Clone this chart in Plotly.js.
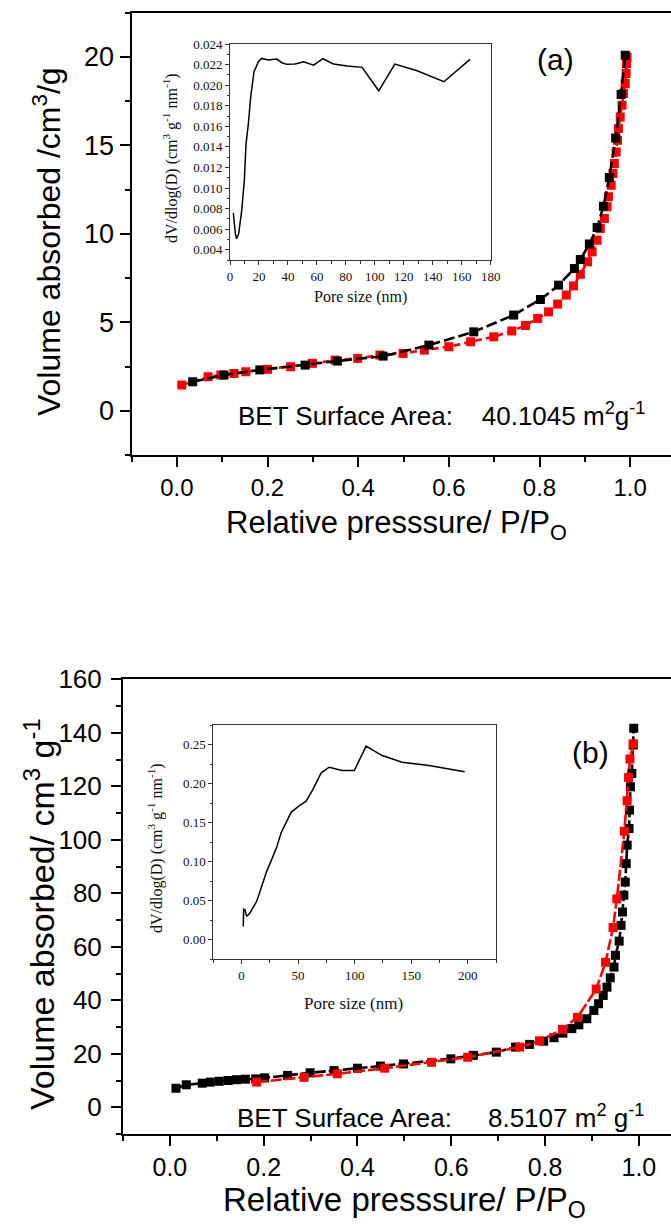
<!DOCTYPE html>
<html>
<head>
<meta charset="utf-8">
<script src="https://cdn.plot.ly/plotly-3.0.1.min.js"></script>
<style>html,body{margin:0;padding:0;background:#fff;}#chart{width:671px;height:1226px;}</style>
</head>
<body>
<div id="chart"></div>
<script>
// ---------- Panel (a) isotherm ----------
const aBlackP = [0.035,0.104,0.183,0.283,0.354,0.455,0.556,0.655,0.743,0.802,0.842,0.877,0.890,0.910,0.927,0.941,0.954,0.968,0.980,0.989];
const aBlackV = [1.64,2.02,2.31,2.58,2.81,3.09,3.71,4.46,5.41,6.29,7.10,8.04,8.55,9.42,10.36,11.56,13.18,15.42,17.88,20.1];
const aRedP = [0.011,0.069,0.097,0.126,0.152,0.200,0.251,0.299,0.349,0.399,0.448,0.499,0.546,0.600,0.648,0.699,0.739,0.769,0.796,0.820,0.840,0.859,0.875,0.890,0.906,0.916,0.927,0.934,0.943,0.949,0.952,0.958,0.962,0.965,0.969,0.972,0.974,0.978,0.982,0.985,0.989,0.991,0.992,0.993];
const aRedV = [1.45,1.92,2.02,2.11,2.20,2.34,2.49,2.68,2.86,2.96,3.15,3.24,3.43,3.62,3.90,4.18,4.51,4.82,5.22,5.59,6.03,6.54,7.06,7.71,8.42,8.98,9.64,10.30,10.87,11.53,12.09,12.75,13.41,13.98,14.63,15.29,15.95,16.61,17.27,17.93,18.50,19.06,19.63,20.0];
// ---------- Panel (a) inset: pore size distribution ----------
const aPoreD = [2.3,3.0,3.7,4.6,6.0,8.1,9.9,11.1,12.7,14.3,16.6,19.6,21.9,26.5,32.3,35.8,39.2,45,50.8,57.7,64.2,71.5,80.8,91.2,102.7,113.8,129.2,147.7,165.7];
const aPoreV = [0.00757,0.00653,0.00556,0.00507,0.00556,0.00783,0.01075,0.01432,0.01627,0.01887,0.0213,0.02228,0.0226,0.02244,0.02254,0.02218,0.02202,0.02205,0.02228,0.02195,0.02257,0.02205,0.02186,0.02173,0.01945,0.02205,0.0214,0.02033,0.02251];
// ---------- Panel (b) isotherm ----------
const bBlackP = [0.013,0.035,0.069,0.086,0.105,0.124,0.142,0.161,0.183,0.202,0.251,0.299,0.350,0.400,0.449,0.498,0.599,0.647,0.696,0.737,0.767,0.797,0.819,0.838,0.857,0.872,0.889,0.904,0.914,0.924,0.932,0.939,0.947,0.950,0.958,0.962,0.965,0.968,0.971,0.973,0.975,0.979,0.980,0.982,0.985,0.988,0.989];
const bBlackV = [7.1,8.4,9.0,9.4,9.7,10.0,10.3,10.5,10.6,11.0,11.9,12.9,13.7,14.6,15.4,16.2,18.1,19.4,20.6,22.5,23.5,24.7,26.0,27.7,29.4,30.8,33.1,36.2,38.7,41.8,44.9,48.4,52.4,56.8,62.1,68.0,73.0,79.3,84.2,91.1,98.0,104.2,111.1,119.8,124.8,135.4,141.7];
const bRedP = [0.185,0.286,0.357,0.458,0.558,0.635,0.746,0.788,0.837,0.869,0.909,0.929,0.945,0.953,0.969,0.975,0.978,0.981,0.988];
const bRedV = [9.4,11.2,12.5,14.6,16.8,18.7,22.5,24.8,29.1,33.6,44.2,54.2,67.2,77.9,103.2,114.6,123.3,130.2,135.9];
// ---------- Panel (b) inset ----------
const bPoreD = [1.5,1.8,3.0,4.4,7.4,13.3,17.8,22.2,26.6,31.1,34.9,39.1,43.8,50.3,57.1,63.0,70.4,77.5,88.8,99.7,110.1,124.3,142.0,165.7,197.3];
const bPoreV = [0.0171,0.0393,0.0385,0.0299,0.0342,0.0491,0.0684,0.0876,0.1026,0.1188,0.1368,0.1496,0.1632,0.1709,0.1774,0.1923,0.2137,0.2209,0.2167,0.2167,0.2479,0.2359,0.2274,0.2231,0.2150];

// ---------- Text ----------
const aYTitle = 'Volume absorbed /cm<sup>3</sup>/g';
const bYTitle = 'Volume absorbed/ cm<sup>3</sup> g<sup>-1</sup>';
const xTitle = 'Relative presssure/ P/P<sub>O</sub>';
const insetYTitle = 'dV/dlog(D) (cm<sup>3</sup> g<sup>-1</sup> nm<sup>-1</sup>)';
const insetXTitle = 'Pore size (nm)';
const aBET = 'BET Surface Area:\u00a0\u00a0\u00a0 40.1045 m<sup>2</sup>g<sup>-1</sup>';
const bBET = 'BET Surface Area:\u00a0\u00a0\u00a0\u00a0 8.5107 m<sup>2</sup> g<sup>-1</sup>';

const W = 671, H = 1226;
const px = v => v / W;
const py = v => 1 - v / H;
const SANS = 'Liberation Sans, Arial, sans-serif';
const SERIF = 'Liberation Serif, Times New Roman, serif';

const iso = (x, y, color, dash, xa, ya) => ({
  x: x, y: y, xaxis: xa, yaxis: ya, type: 'scatter', mode: 'lines+markers',
  line: {color: color, width: 2.6, dash: dash},
  marker: {symbol: 'square', size: 9, color: color},
  showlegend: false, hoverinfo: 'skip'
});

const traces = [
  iso(aRedP, aRedV, '#ff0000', '7px,4px', 'x', 'y'),
  iso(aBlackP, aBlackV, '#000000', '11px,4px', 'x', 'y'),
  {x: aPoreD, y: aPoreV, xaxis: 'x2', yaxis: 'y2', type: 'scatter', mode: 'lines',
   line: {color: '#000', width: 1.5}, showlegend: false, hoverinfo: 'skip'},
  iso(bBlackP, bBlackV, '#000000', '11px,3px', 'x3', 'y3'),
  iso(bRedP, bRedV, '#ff0000', '11px,3px', 'x3', 'y3'),
  {x: bPoreD, y: bPoreV, xaxis: 'x4', yaxis: 'y4', type: 'scatter', mode: 'lines',
   line: {color: '#000', width: 1.5}, showlegend: false, hoverinfo: 'skip'}
];

const mainAx = (o) => Object.assign({
  showline: true, linecolor: '#000', linewidth: 2,
  ticks: 'outside', ticklen: 10, tickwidth: 2, tickcolor: '#000',
  showgrid: false, zeroline: false,
  tickfont: {family: SANS, size: 24, color: '#000'}
}, o);
const insetAx = (o) => Object.assign({
  showline: true, linecolor: '#333', linewidth: 1, mirror: true,
  ticks: 'outside', ticklen: 4, tickwidth: 1, tickcolor: '#333',
  showgrid: false, zeroline: false,
  tickfont: {family: SERIF, size: 13, color: '#111'}
}, o);

const layout = {
  width: W, height: H,
  margin: {l: 0, r: 0, t: 0, b: 0},
  paper_bgcolor: '#fff', plot_bgcolor: 'rgba(0,0,0,0)',
  showlegend: false,
  xaxis: mainAx({domain: [px(131.5), 1], range: [-0.1, 1.09], anchor: 'y', mirror: true,
    tick0: 0, dtick: 0.2, tickformat: '.1f',
    minor: {ticks: 'outside', ticklen: 5, tickwidth: 2, tickcolor: '#000', dtick: 0.1, tick0: 0}}),
  yaxis: mainAx({domain: [py(455), py(12.7)], range: [-2.5, 22.5], anchor: 'x',
    tick0: 0, dtick: 5, tickfont: {family: SANS, size: 27, color: '#000'},
    minor: {ticks: 'outside', ticklen: 5, tickwidth: 2, tickcolor: '#000', dtick: 2.5, tick0: 0}}),
  xaxis2: insetAx({domain: [px(230), px(490.7)], range: [0, 180], anchor: 'y2',
    tick0: 0, dtick: 20, minor: {ticks: 'outside', ticklen: 2.5, tickcolor: '#333', dtick: 10}}),
  yaxis2: insetAx({domain: [py(260), py(44)], range: [0.003, 0.024], anchor: 'x2',
    tick0: 0, dtick: 0.002, tickformat: '.3f',
    minor: {ticks: 'outside', ticklen: 2.5, tickcolor: '#333', dtick: 0.001}}),
  xaxis3: mainAx({domain: [px(123), 1], range: [-0.1, 1.0685], anchor: 'y3', mirror: true,
    tick0: 0, dtick: 0.2, tickformat: '.1f', tickfont: {family: SANS, size: 25, color: '#000'},
    minor: {ticks: 'outside', ticklen: 5, tickwidth: 2, tickcolor: '#000', dtick: 0.1, tick0: 0}}),
  yaxis3: mainAx({domain: [py(1134), py(679.3)], range: [-10, 160], anchor: 'x3',
    tick0: 0, dtick: 20, tickfont: {family: SANS, size: 26, color: '#000'}, ticklabelstandoff: 4,
    minor: {ticks: 'outside', ticklen: 5, tickwidth: 2, tickcolor: '#000', dtick: 10, tick0: 0}}),
  xaxis4: insetAx({domain: [px(213.3), px(496)], range: [-25, 225], anchor: 'y4',
    tick0: 0, dtick: 50, minor: {ticks: 'outside', ticklen: 2.5, tickcolor: '#333', dtick: 25}}),
  yaxis4: insetAx({domain: [py(959.3), py(725)], range: [-0.025, 0.275], anchor: 'x4',
    tick0: 0, dtick: 0.05, tickformat: '.2f',
    minor: {ticks: 'outside', ticklen: 2.5, tickcolor: '#333', dtick: 0.025}}),
  annotations: [
    {text: aYTitle, x: px(47), y: py(242), textangle: -90, font: {family: SANS, size: 32, color: '#000'}},
    {text: xTitle, x: px(396), y: py(525), font: {family: SANS, size: 31, color: '#000'}},
    {text: '(a)', x: px(555), y: py(59), font: {family: SANS, size: 30, color: '#000'}},
    {text: aBET, x: px(236), y: py(415), xanchor: 'left', font: {family: SANS, size: 26, color: '#000'}},
    {text: insetYTitle, x: px(170), y: py(158), textangle: -90, font: {family: SERIF, size: 16, color: '#111'}},
    {text: insetXTitle, x: px(360), y: py(297), font: {family: SERIF, size: 16, color: '#111'}},
    {text: bYTitle, x: px(39), y: py(914), textangle: -90, font: {family: SANS, size: 34, color: '#000'}},
    {text: xTitle, x: px(404), y: py(1202), font: {family: SANS, size: 33, color: '#000'}},
    {text: '(b)', x: px(590), y: py(752), font: {family: SANS, size: 30, color: '#000'}},
    {text: bBET, x: px(235), y: py(1116), xanchor: 'left', font: {family: SANS, size: 26, color: '#000'}},
    {text: insetYTitle, x: px(155), y: py(848), textangle: -90, font: {family: SERIF, size: 16, color: '#111'}},
    {text: insetXTitle, x: px(353), y: py(1003), font: {family: SERIF, size: 17, color: '#111'}}
  ].map(a => Object.assign({xref: 'paper', yref: 'paper', showarrow: false, xanchor: 'center', yanchor: 'middle'}, a))
};

Plotly.newPlot('chart', traces, layout, {staticPlot: true, displayModeBar: false});
</script>
</body>
</html>
